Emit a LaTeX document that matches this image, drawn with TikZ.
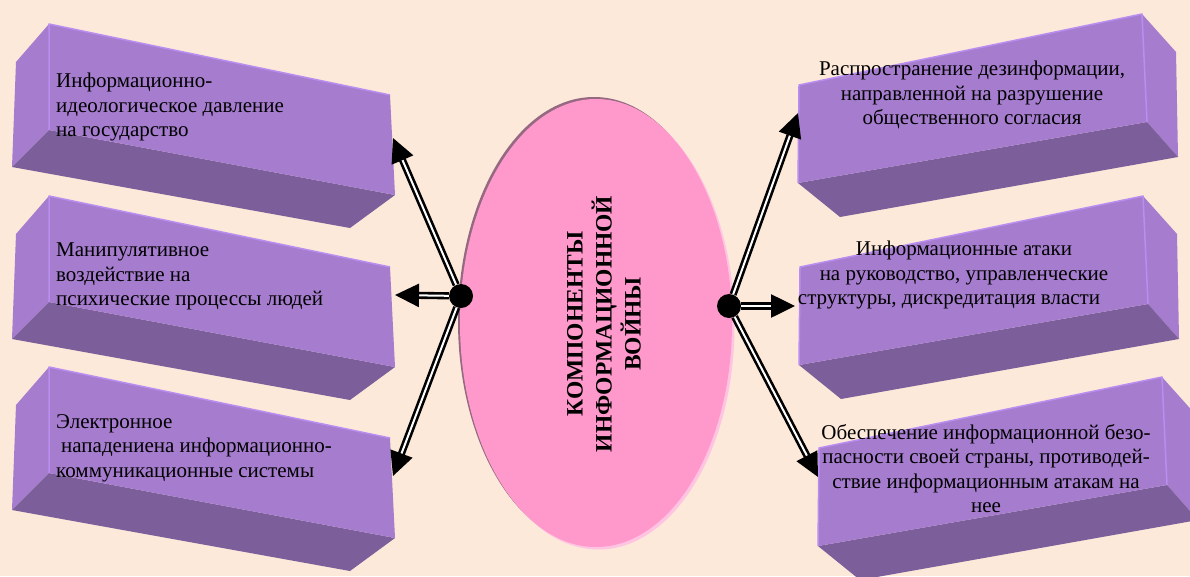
\documentclass[tikz,border=0pt]{standalone}
\usepackage{fontspec}
\setmainfont{Liberation Serif}
\usetikzlibrary{arrows.meta,shapes.geometric}
\definecolor{linen}{RGB}{252, 233, 218}
\definecolor{lavender}{RGB}{165, 124, 206}
\definecolor{lavenderdark}{RGB}{123, 94, 154}
\definecolor{lavenderedge}{RGB}{185, 142, 240}
\definecolor{carnation}{RGB}{255, 153, 204}
\definecolor{carnationlight}{RGB}{255, 196, 226}
\definecolor{mauvedark}{RGB}{150, 105, 130}

\begin{document}
\begin{tikzpicture}[
        x=1pt, y=-1pt,
        face/.style={fill=lavender},
        underside/.style={fill=lavenderdark},
        rim/.style={draw=lavenderedge, line width=1.5pt, line join=round},
        lefttext/.style={anchor=north west, align=left, inner sep=0pt,
            font=\fontsize{21}{24.5}\selectfont},
        righttext/.style={anchor=north, align=center, inner sep=0pt,
            font=\fontsize{21}{24.5}\selectfont},
        core/.style={ellipse, fill=carnation, minimum width=272pt,
            minimum height=448pt, inner sep=0pt},
        title/.style={rotate=90, align=center, inner sep=0pt,
            font=\fontsize{23.5}{29}\selectfont\bfseries},
        hub/.style={circle, fill=black, minimum size=24pt, inner sep=0pt},
        link/.style={double=white, double distance=2pt, line width=2.6pt,
            -{Triangle[length=24pt, width=23pt]}}
    ]

    \useasboundingbox (0,0) rectangle (1190,576);
    \fill[linen] (0,0) rectangle (1190,576);

    % left blocks
    \foreach \dy in {0,172,343} {
        \begin{scope}[shift={(0,\dy)}]
            \path[face] (16,62) -- (49,24) -- (49,130) -- (12,167) -- cycle;
            \path[underside] (12,167) -- (49,130) -- (395,195) -- (350,228) -- cycle;
            \path[face] (49,24) -- (390,95) -- (395,195) -- (49,130) -- cycle;
            \draw[rim] (49,130) -- (49,24) -- (390,95);
        \end{scope}
    }

    % right blocks
    \foreach \dx/\dy in {0/0,1/182,20/363} {
        \begin{scope}[shift={(\dx,\dy)}]
            \path[face] (1142,14) -- (1176,52) -- (1178,157) -- (1147,122) -- cycle;
            \path[underside] (798,183) -- (1147,122) -- (1178,157) -- (840,217) -- cycle;
            \path[face] (799,85) -- (1142,14) -- (1147,122) -- (798,183) -- cycle;
            \draw[rim] (798,183) -- (799,85) -- (1142,14) -- (1147,122);
        \end{scope}
    }

    \node[lefttext] (pressure) at (56,73) {Информационно-\\идеологическое давление\\на государство};
    \node[lefttext] (psyche) at (56,243) {Манипулятивное\\воздействие на\\психические процессы людей};
    \node[lefttext] (attack) at (56,414) {Электронное\\\hspace*{5pt}нападениена информационно-\\коммуникационные системы};

    \node[righttext] (disinfo) at (972,61) {Распространение дезинформации,\\направленной на разрушение\\общественного согласия};
    \node[righttext] (power) at (964,241) {Информационные атаки\\на руководство, управленческие\\структуры, дискредитация власти\hspace*{30pt}};
    \node[righttext] (defence) at (986,424) {Обеспечение информационной безо-\\пасности своей страны, противодей-\\ствие информационным атакам на\hspace*{12pt}\\нее};

    % central ellipse
    \fill[mauvedark] (594,321) ellipse [x radius=136, y radius=224];
    \fill[carnationlight] (598.5,325.5) ellipse [x radius=136, y radius=224];
    \node[core] (core) at (596,323) {};
    \node[title] (war) at (604,324) {КОМПОНЕНТЫ\\ИНФОРМАЦИОННОЙ\\ВОЙНЫ};

    \node[hub] (lhub) at (461,296) {};
    \node[hub] (rhub) at (729,306) {};

    \coordinate (pressuretip) at (393,138);
    \coordinate (psychetip) at (395,295);
    \coordinate (attacktip) at (393,476);
    \coordinate (disinfotip) at (798,113);
    \coordinate (powertip) at (795,306);
    \coordinate (defencetip) at (818,477);

    \draw[link] (lhub) -- (pressuretip);
    \draw[link] (lhub) -- (psychetip);
    \draw[link] (lhub) -- (attacktip);
    \draw[link] (rhub) -- (disinfotip);
    \draw[link] (rhub) -- (powertip);
    \draw[link] (rhub) -- (defencetip);
\end{tikzpicture}
\end{document}
